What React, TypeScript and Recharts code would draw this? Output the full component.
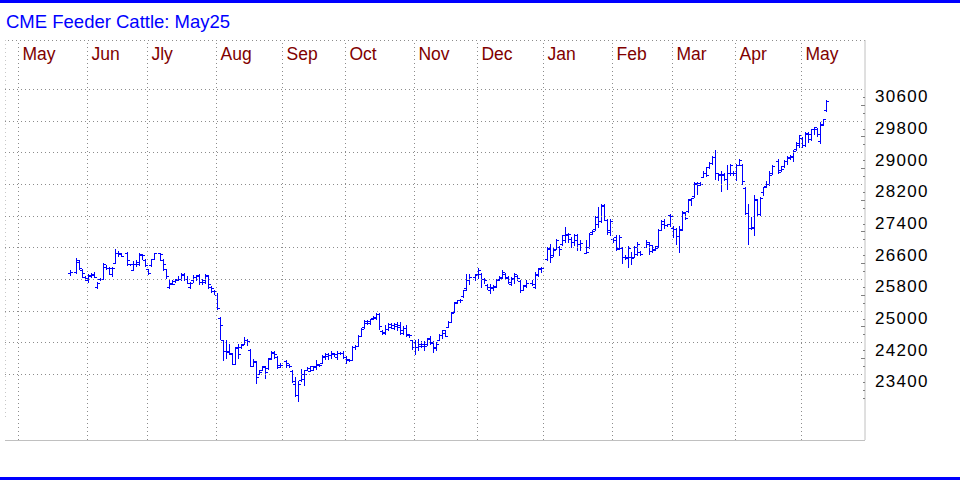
import React from "react";
import { ComposedChart, Bar, XAxis, YAxis, ReferenceLine } from "recharts";

// [open, high, low, close], one row per trading day
type Ohlc = [number, number, number, number];

const may24: Ohlc[] = [
  [25970, 26050, 25920, 26000], [25990, 26340, 25960, 26300], [26250, 26300, 26060, 26080],
  [26050, 26070, 25860, 25960], [25860, 25890, 25780, 25840],
];
const jun24: Ohlc[] = [
  [25780, 25930, 25740, 25900], [25920, 25960, 25860, 25930], [25920, 26000, 25860, 25870],
  [25600, 25735, 25590, 25720], [25820, 25840, 25790, 25820], [25810, 26220, 25800, 26200],
  [26110, 26160, 26070, 26100], [26090, 26115, 25945, 26090], [25950, 26115, 25900, 26100],
  [26220, 26580, 26215, 26480], [26470, 26520, 26385, 26470], [26450, 26470, 26385, 26390],
  [26480, 26494, 26174, 26280], [26180, 26200, 26157, 26180], [26050, 26258, 26030, 26200],
  [26200, 26300, 26140, 26240], [26200, 26469, 26157, 26435], [26410, 26435, 26325, 26410],
  [26300, 26325, 26140, 26157],
];
const jul24: Ohlc[] = [
  [26060, 26073, 25946, 25963], [26160, 26325, 26140, 26320], [26325, 26469, 26325, 26460],
  [26460, 26469, 26300, 26440], [26300, 26325, 26047, 26200], [26060, 26073, 25845, 25900],
  [25610, 25794, 25592, 25693], [25700, 25794, 25676, 25690], [25760, 25820, 25735, 25778],
  [25810, 25879, 25794, 25820], [25820, 25963, 25778, 25904], [25940, 25963, 25778, 25800],
  [25800, 25900, 25700, 25720], [25610, 25735, 25592, 25720], [25780, 25921, 25735, 25862],
  [25860, 25921, 25778, 25904], [25900, 25929, 25693, 25735], [25735, 25820, 25693, 25778],
  [25735, 25929, 25710, 25904], [25890, 25904, 25592, 25693], [25610, 25626, 25482, 25592],
  [25510, 25525, 25440, 25508],
];
const aug24: Ohlc[] = [
  [25420, 25457, 25061, 25070], [24820, 24850, 24302, 24656], [24260, 24277, 23771, 23982],
  [23990, 24277, 23821, 24000], [23960, 24159, 23906, 23948], [23920, 23939, 23653, 23670],
  [23670, 24091, 23653, 24074], [24091, 24159, 23821, 23922], [24100, 24159, 24074, 24133],
  [24180, 24344, 24159, 24260], [24260, 24302, 24133, 24243], [24010, 24049, 23611, 23627],
  [23627, 23796, 23611, 23737], [23710, 23737, 23181, 23349], [23420, 23501, 23400, 23459],
  [23510, 23627, 23501, 23602], [23600, 23627, 23316, 23459], [23560, 23813, 23543, 23796],
  [23820, 23990, 23796, 23939], [23960, 23982, 23821, 23906], [23840, 23855, 23568, 23585],
  [23640, 23680, 23600, 23650],
];
const sep24: Ohlc[] = [
  [23740, 23754, 23585, 23687], [23650, 23670, 23585, 23602], [23480, 23501, 23206, 23231],
  [23164, 23332, 22869, 22894], [22894, 23248, 22725, 23164], [23265, 23543, 23248, 23290],
  [23400, 23501, 23147, 23420], [23520, 23585, 23501, 23560], [23500, 23627, 23484, 23602],
  [23520, 23627, 23501, 23602], [23580, 23754, 23543, 23653], [23630, 23670, 23602, 23650],
  [23700, 23880, 23686, 23855], [23830, 23939, 23796, 23905], [23855, 23939, 23796, 23880],
  [23880, 23990, 23821, 23939], [23910, 23939, 23855, 23920], [23840, 23990, 23796, 23939],
  [23940, 23964, 23906, 23940], [23940, 23990, 23821, 23838],
];
const oct24: Ohlc[] = [
  [23840, 23855, 23686, 23796], [23770, 23796, 23737, 23755], [23760, 24108, 23754, 24091],
  [24091, 24133, 24049, 24108], [24130, 24386, 24108, 24361], [24380, 24572, 24361, 24555],
  [24600, 24765, 24572, 24750], [24700, 24765, 24681, 24750], [24700, 24808, 24681, 24790],
  [24830, 24867, 24808, 24850], [24830, 24959, 24808, 24934], [24930, 24959, 24538, 24614],
  [24510, 24530, 24428, 24445], [24470, 24639, 24428, 24555], [24555, 24698, 24530, 24681],
  [24600, 24698, 24580, 24580], [24650, 24698, 24555, 24614], [24680, 24723, 24512, 24639],
  [24610, 24723, 24428, 24440], [24513, 24614, 24428, 24580], [24580, 24639, 24361, 24428],
  [24410, 24428, 24344, 24386], [24260, 24277, 24049, 24091],
];
const nov24: Ohlc[] = [
  [24230, 24260, 23923, 24091], [24091, 24302, 24007, 24176], [24130, 24243, 24091, 24130],
  [24176, 24243, 24007, 24130], [24176, 24327, 24133, 24302], [24327, 24361, 24176, 24218],
  [24200, 24243, 23965, 24091], [24074, 24218, 24007, 24176], [24260, 24412, 24260, 24386],
  [24386, 24530, 24327, 24513], [24450, 24530, 24361, 24361], [24597, 24749, 24597, 24724],
  [24724, 24977, 24724, 24951], [24977, 25229, 24977, 25204], [25229, 25288, 25204, 25272],
  [25272, 25314, 25229, 25290], [25373, 25541, 25356, 25524], [25592, 25946, 25541, 25794],
  [25794, 25929, 25693, 25862], [25862, 25929, 25794, 25904],
];
const dec24: Ohlc[] = [
  [25930, 26100, 25850, 26050], [25950, 25962, 25608, 25819], [25800, 25844, 25709, 25780],
  [25670, 25693, 25566, 25608], [25524, 25693, 25457, 25608], [25580, 25650, 25524, 25600],
  [25625, 25819, 25608, 25794], [25819, 25878, 25794, 25844], [25861, 26030, 25844, 25988],
  [25945, 25962, 25819, 25861], [25844, 25878, 25709, 25735], [25693, 25861, 25650, 25819],
  [25844, 25962, 25709, 25945], [25878, 25903, 25777, 25844], [25760, 25777, 25482, 25524],
  [25541, 25650, 25524, 25625], [25650, 25777, 25608, 25709], [25709, 25777, 25650, 25693],
  [25608, 25988, 25591, 25945], [25903, 26097, 25878, 26072], [26080, 26114, 25988, 26097],
];
const jan25: Ohlc[] = [
  [26320, 26620, 26283, 26578], [26600, 26704, 26241, 26370], [26409, 26603, 26384, 26553],
  [26578, 26831, 26578, 26805], [26610, 26640, 26409, 26578], [26700, 26932, 26662, 26915],
  [26790, 27126, 26746, 26957], [26915, 26974, 26746, 26957], [26830, 26880, 26620, 26746],
  [26746, 26957, 26662, 26789], [26915, 26940, 26553, 26704], [26704, 26789, 26553, 26721],
  [26480, 26790, 26470, 26500], [26620, 26974, 26603, 26957], [26990, 27041, 26957, 27020],
  [27070, 27395, 27058, 27379], [27200, 27632, 27126, 27290], [27290, 27716, 27253, 27674],
  [27650, 27716, 27295, 27300], [27300, 27337, 26958, 27050], [27000, 27337, 26915, 27290],
];
const feb25: Ohlc[] = [
  [26820, 26850, 26750, 26790], [26873, 26915, 26536, 26561], [26600, 26932, 26578, 26873],
  [26603, 26620, 26216, 26368], [26368, 26410, 26325, 26350], [26368, 26637, 26115, 26603],
  [26368, 26494, 26199, 26350], [26368, 26637, 26360, 26620], [26452, 26747, 26410, 26705],
  [26494, 26511, 26410, 26452], [26620, 26789, 26610, 26747], [26705, 26747, 26435, 26663],
  [26511, 26663, 26494, 26536], [26578, 26637, 26553, 26603], [26640, 27084, 26630, 27042],
  [27059, 27295, 27042, 27278], [27210, 27337, 27109, 27168], [27168, 27210, 27143, 27193],
  [27420, 27463, 27143, 27396],
];
const mar25: Ohlc[] = [
  [27100, 27143, 26873, 27084], [27080, 27109, 26705, 26900], [26900, 27143, 26494, 27042],
  [27080, 27531, 27059, 27505], [27480, 27505, 27337, 27362], [27530, 27843, 27505, 27817],
  [27840, 27868, 27674, 27850], [27920, 28264, 27885, 28222], [28230, 28264, 27969, 28180],
  [28230, 28264, 28197, 28220], [28400, 28534, 28391, 28500], [28500, 28644, 28416, 28450],
  [28640, 28770, 28618, 28750], [28750, 28922, 28728, 28900], [28900, 29065, 28332, 28500],
  [28480, 28500, 28306, 28460], [28450, 28534, 28028, 28470], [28450, 28500, 28306, 28330],
  [28330, 28686, 28079, 28480], [28500, 28728, 28433, 28690], [28500, 28534, 28433, 28480],
];
const apr25: Ohlc[] = [
  [28480, 28728, 28306, 28680], [28700, 28838, 28686, 28820], [28700, 28728, 28222, 28280],
  [28100, 28138, 27463, 27480], [27480, 27716, 26705, 27100], [27100, 27379, 27084, 27130],
  [27100, 27927, 26932, 27826], [27800, 27843, 27421, 27463], [27450, 27885, 27421, 27868],
  [28000, 28138, 27927, 28130], [28150, 28281, 28138, 28200], [28200, 28534, 28180, 28433],
  [28500, 28686, 28475, 28670], [28800, 28838, 28500, 28520], [28560, 28669, 28534, 28600],
  [28660, 28812, 28644, 28790], [28790, 28922, 28728, 28900], [28880, 28939, 28838, 28930],
  [28900, 29065, 28787, 29050], [29100, 29276, 29065, 29250], [29200, 29461, 29149, 29440],
];
const may25: Ohlc[] = [
  [29380, 29402, 29149, 29200], [29200, 29529, 29175, 29500], [29480, 29529, 29276, 29480],
  [29350, 29613, 29318, 29590], [29600, 29655, 29487, 29640], [29600, 29630, 29428, 29480],
  [29300, 29782, 29259, 29740], [29700, 29866, 29697, 29850], [30080, 30330, 30060, 30310],
];

const FIRST_DAY = "2024-05-24";
const LAST_DAY = "2025-05-13";
const HOLIDAYS = [
  "2024-05-27", "2024-06-19", "2024-07-04", "2024-09-02", "2024-11-28",
  "2024-12-25", "2025-01-01", "2025-01-20", "2025-02-17", "2025-04-18",
];
const MONTH_STARTS = [
  "2024-05-01", "2024-06-03", "2024-07-01", "2024-08-01", "2024-09-02", "2024-10-01", "2024-11-01",
  "2024-12-02", "2025-01-01", "2025-02-03", "2025-03-03", "2025-04-01", "2025-05-01",
];
const MONTH_LABELS = ["May", "Jun", "Jly", "Aug", "Sep", "Oct", "Nov", "Dec", "Jan", "Feb", "Mar", "Apr", "May"];
const PRICE_LABELS = [23400, 24200, 25000, 25800, 26600, 27400, 28200, 29000, 29800, 30600];

const Y_MIN = 21745;
const Y_MAX = 31850;
const X_MIN = -5;
const X_MAX = 281.667;
const GRID_END = 280.6; // horizontal grid stops a few px short of the axis

const DAY = 86400000;
const ORIGIN = Date.UTC(2024, 4, 1);
const toTime = (iso: string) => Date.parse(iso + "T00:00:00Z");
const isWeekday = (t: number) => {
  const d = new Date(t).getUTCDay();
  return d !== 0 && d !== 6;
};
// count of weekdays since May 1st 2024 -> x position
function weekdayIndex(iso: string) {
  let n = 0;
  for (let t = ORIGIN; t < toTime(iso); t += DAY) if (isWeekday(t)) n++;
  return n;
}

const tradingDays: string[] = [];
for (let t = toTime(FIRST_DAY); t <= toTime(LAST_DAY); t += DAY) {
  const iso = new Date(t).toISOString().slice(0, 10);
  if (isWeekday(t) && !HOLIDAYS.includes(iso)) tradingDays.push(iso);
}

const bars = [...may24, ...jun24, ...jul24, ...aug24, ...sep24, ...oct24, ...nov24, ...dec24, ...jan25, ...feb25, ...mar25, ...apr25, ...may25];

const data = bars.slice(0, tradingDays.length).map(([open, high, low, close], k) => ({
  day: weekdayIndex(tradingDays[k]),
  range: [low, high],
  open,
  high,
  low,
  close,
}));

// minor ticks every 200 between the lowest and highest labelled level
const priceTicks: number[] = [];
for (let v = 22800; v <= 30600; v += 200) priceTicks.push(v);

const FONT = "'Liberation Sans', Arial, Helvetica, sans-serif";
const GRID = "#8c8c8c";
const DOTS = "1 3";

function OhlcBar(props: any) {
  const { x, y, width, height, payload } = props;
  if (x == null || y == null || !payload) return null;
  const cx = Math.floor(x + width / 2) + 0.5;
  const top = Math.min(y, y + height);
  const h = Math.abs(height);
  const span = payload.high - payload.low;
  const at = (v: number) => Math.round(top + (span > 0 ? ((payload.high - v) / span) * h : 0)) + 0.5;
  return (
    <g stroke="#0000ff" strokeWidth={1} shapeRendering="crispEdges">
      <line x1={cx} x2={cx} y1={Math.round(top)} y2={Math.round(top + h) + 1} />
      <line x1={cx - 2.5} x2={cx} y1={at(payload.open)} y2={at(payload.open)} />
      <line x1={cx} x2={cx + 2.5} y1={at(payload.close)} y2={at(payload.close)} />
    </g>
  );
}

function PriceTick(props: any) {
  const { x, y, payload } = props;
  const v = payload.value;
  if (PRICE_LABELS.includes(v)) {
    return (
      <text x={x + 10} y={y + 13} fontFamily={FONT} fontSize={17} letterSpacing={1.3} fill="#000">
        {v}
      </text>
    );
  }
  const len = (v - PRICE_LABELS[0]) % 800 === 400 ? 4 : 2;
  return <line x1={x - len} x2={x} y1={y} y2={y} stroke="#808080" shapeRendering="crispEdges" />;
}

const monthLabel = (text: string) => (p: any) => {
  const vb = p.viewBox || {};
  return (
    <text x={(vb.x ?? 0) + 4} y={(vb.y ?? 40) + 20} fontFamily={FONT} fontSize={17.5} fill="#800000">
      {text}
    </text>
  );
};

export default function App() {
  return (
    <div style={{ position: "relative", width: 960, height: 480, background: "#fff" }}>
      <style>{"body{margin:0}"}</style>
      <ComposedChart width={960} height={480} data={data} margin={{ top: 40, right: 0, bottom: 40, left: 5 }}>
        <XAxis dataKey="day" type="number" domain={[X_MIN, X_MAX]} allowDataOverflow hide />
        <YAxis
          orientation="right"
          type="number"
          domain={[Y_MIN, Y_MAX]}
          allowDataOverflow
          ticks={priceTicks}
          interval={0}
          width={95}
          tickSize={0}
          tickMargin={0}
          tickLine={false}
          axisLine={{ stroke: "#c0c0c0" }}
          tick={<PriceTick />}
        />
        <ReferenceLine y={Y_MAX} stroke={GRID} strokeDasharray={DOTS} shapeRendering="crispEdges" />
        <ReferenceLine
          segment={[{ x: X_MIN, y: Y_MAX }, { x: X_MIN, y: 22250 }]}
          stroke="#c8c8c8"
          strokeDasharray={DOTS}
          shapeRendering="crispEdges"
        />
        {PRICE_LABELS.map((v) => (
          <ReferenceLine
            key={"h" + v}
            segment={[{ x: X_MIN, y: v }, { x: GRID_END, y: v }]}
            stroke={GRID}
            strokeDasharray={DOTS}
            shapeRendering="crispEdges"
          />
        ))}
        {MONTH_STARTS.map((d, i) => (
          <ReferenceLine
            key={"m" + d}
            x={weekdayIndex(d) - 0.5}
            stroke={GRID}
            strokeDasharray={DOTS}
            shapeRendering="crispEdges"
            label={monthLabel(MONTH_LABELS[i])}
          />
        ))}
        <ReferenceLine y={Y_MIN} stroke="#c0c0c0" shapeRendering="crispEdges" />
        <Bar dataKey="range" barSize={3} shape={<OhlcBar />} isAnimationActive={false} />
      </ComposedChart>
      <svg width={960} height={480} style={{ position: "absolute", left: 0, top: 0, pointerEvents: "none" }}>
        <rect x={0} y={0} width={960} height={3} fill="#0000ff" />
        <rect x={0} y={477} width={960} height={3} fill="#0000ff" />
        <text x={6} y={28} fontFamily={FONT} fontSize={18.5} fill="#0000ff">
          CME Feeder Cattle: May25
        </text>
      </svg>
    </div>
  );
}
